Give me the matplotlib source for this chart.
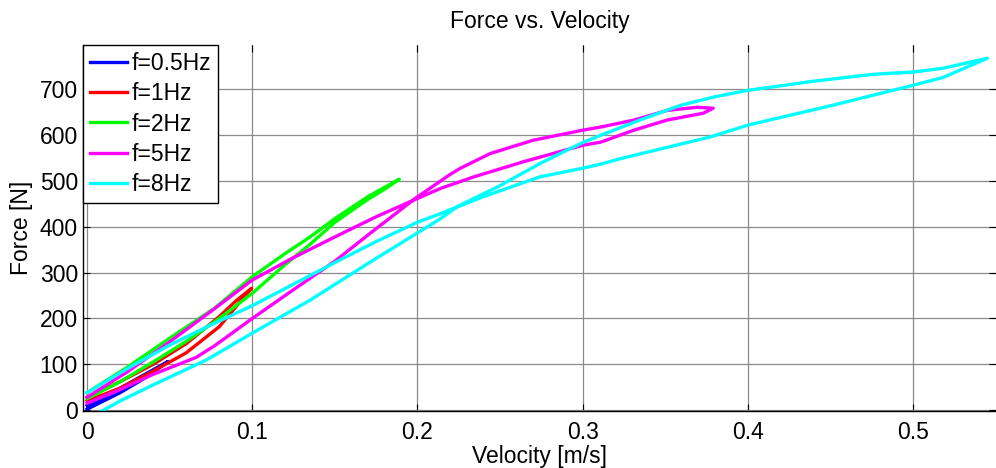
import numpy as np
import matplotlib
matplotlib.use("Agg")
import matplotlib.pyplot as plt

plt.rcParams['font.family'] = ['Liberation Sans', 'DejaVu Sans']

# Force-velocity loops (velocity in m/s, force in N)
v_05 = [0.000, 0.010, 0.020, 0.035, 0.049, 0.040, 0.030, 0.020, 0.010, 0.000]
F_05 = [2, 20, 38, 70, 106, 88, 68, 48, 28, 10]

v_1 = [0.000, 0.020, 0.040, 0.060, 0.080, 0.090, 0.0996, 0.090, 0.080, 0.060, 0.040, 0.020, 0.000]
F_1 = [20, 48, 85, 125, 182, 225, 266, 238, 204, 145, 100, 62, 28]

v_2 = [0.000, 0.020, 0.040, 0.060, 0.080, 0.100, 0.120, 0.135, 0.150, 0.170, 0.180, 0.189,
       0.180, 0.170, 0.150, 0.135, 0.120, 0.100, 0.077, 0.050, 0.025, 0.000]
F_2 = [25, 62, 105, 150, 200, 255, 318, 362, 410, 460, 482, 504,
       486, 466, 418, 378, 342, 291, 222, 157, 95, 38]

v_5 = [0.000, 0.020, 0.040, 0.066, 0.077, 0.100, 0.123, 0.150, 0.171, 0.199, 0.220, 0.226,
       0.244, 0.270, 0.300, 0.311, 0.331, 0.351, 0.369, 0.379, 0.373, 0.351, 0.331, 0.311,
       0.300, 0.264, 0.234, 0.214, 0.200, 0.175, 0.150, 0.125, 0.100, 0.077, 0.050, 0.025, 0.000]
F_5 = [15, 45, 78, 115, 140, 200, 258, 325, 385, 463, 515, 528,
       560, 589, 611, 618, 633, 654, 661, 659, 648, 633, 611, 585,
       578, 542, 509, 484, 462, 422, 378, 333, 284, 221, 149, 85, 28]

v_8 = [0.004, 0.020, 0.040, 0.072, 0.100, 0.135, 0.170, 0.214, 0.224, 0.250, 0.274, 0.300,
       0.311, 0.336, 0.359, 0.380, 0.400, 0.440, 0.476, 0.500, 0.518, 0.545,
       0.518, 0.500, 0.452, 0.400, 0.377, 0.323, 0.311, 0.300, 0.274, 0.240, 0.214,
       0.200, 0.175, 0.150, 0.125, 0.100, 0.075, 0.050, 0.025, 0.000]
F_8 = [-12, 20, 55, 109, 168, 240, 320, 418, 444, 490, 538, 584,
       600, 635, 665, 684, 698, 718, 733, 738, 746, 768,
       726, 709, 666, 622, 596, 549, 537, 528, 509, 466, 429,
       410, 368, 322, 275, 228, 186, 142, 92, 38]

labels = ['f=0.5Hz', 'f=1Hz', 'f=2Hz', 'f=5Hz', 'f=8Hz']
colors = ['#0000ff', '#ff0000', '#00ff00', '#ff00ff', '#00ffff']
x_ticks = [0, 0.1, 0.2, 0.3, 0.4, 0.5]
y_ticks = [0, 100, 200, 300, 400, 500, 600, 700]

fig = plt.figure(figsize=(9.96, 4.68), dpi=100)
ax = fig.add_axes([0.0838, 0.1218, 0.9159, 0.7821])

series = [(v_05, F_05), (v_1, F_1), (v_2, F_2), (v_5, F_5), (v_8, F_8)]
for (v, F), lab, c in zip(series, labels, colors):
    ax.plot(v, F, color=c, lw=2.4, label=lab, solid_joinstyle='round')

ax.set_xlim(-0.0022, 0.55)
ax.set_ylim(-2, 797)
ax.set_xticks(x_ticks)
ax.set_xticklabels(['0', '0.1', '0.2', '0.3', '0.4', '0.5'])
ax.set_yticks(y_ticks)

ax.grid(True, color='#8a8a8a', lw=0.9)
ax.set_axisbelow(True)
ax.tick_params(direction='in', length=5, width=0.8, labelsize=16.5, top=True, right=True)
ax.tick_params(axis='x', pad=7)
ax.tick_params(axis='y', pad=4)
for s in ['top', 'right']:
    ax.spines[s].set_visible(False)
for s in ['left', 'bottom']:
    ax.spines[s].set_linewidth(1.0)

ax.set_title("Force vs. Velocity", fontsize=16.5, pad=12)
ax.set_xlabel("Velocity [m/s]", fontsize=16.5, labelpad=1)
ax.set_ylabel("Force [N]", fontsize=16.5, labelpad=5)

leg = ax.legend(loc='upper left', bbox_to_anchor=(0, 1), borderaxespad=0,
                fontsize=16.5, fancybox=False, framealpha=1, edgecolor='black',
                handlelength=1.6, handletextpad=0.2, labelspacing=0.32,
                borderpad=0.3)
leg.get_frame().set_linewidth(1.0)

plt.savefig("out.png", dpi=100)
